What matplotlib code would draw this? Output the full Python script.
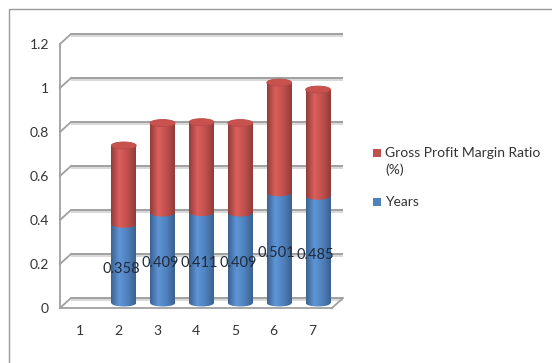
import numpy as np
import matplotlib
matplotlib.use("Agg")
import matplotlib.pyplot as plt
from matplotlib.patches import Rectangle, Ellipse
from matplotlib.colors import LinearSegmentedColormap, to_rgb
import matplotlib.transforms as mtransforms

plt.rcParams['font.family'] = ['Lato', 'DejaVu Sans']

categories = ['1', '2', '3', '4', '5', '6', '7']
years = [0, 0.358, 0.409, 0.411, 0.409, 0.501, 0.485]
gpm_ratio = [0, 0.358, 0.409, 0.411, 0.409, 0.501, 0.485]
y_ticks = [0, 0.2, 0.4, 0.6, 0.8, 1, 1.2]
y_tick_labels = ['0', '0.2', '0.4', '0.6', '0.8', '1', '1.2']

BLUE = '#4f81bd'
RED = '#c0504d'
GRID = '#a0a0a0'
TXT = '#333333'

W, H = 552, 363
fig = plt.figure(figsize=(W / 100, H / 100), dpi=100)

# outer chart border (runs off the right/bottom edge)
fig.patches.append(Rectangle((9 / W, -0.2), 1.2, 1.2 - 9 / H,
                             transform=fig.transFigure, fill=False,
                             edgecolor='#9a9a9a', lw=1.0))

# front plane of the pseudo-3d box
left, right, bottom, top = 60, 332, 308, 44
ax = fig.add_axes([left / W, (H - bottom) / H, (right - left) / W, (bottom - top) / H])
ax.set_xlim(0.5, 7.5)
ax.set_ylim(0, 1.2)
ax.axis('off')

DX, DY = 11, 10  # depth offset of the back wall, pixels
back = mtransforms.offset_copy(ax.transData, fig, x=DX, y=DY, units='dots')
mid = mtransforms.offset_copy(ax.transData, fig, x=DX / 2, y=DY / 2, units='dots')

x0, x1 = ax.get_xlim()
for v, lab in zip(y_ticks, y_tick_labels):
    # back wall gridline, with a soft shadow under it
    ax.plot([x0, x1], [v, v], transform=mtransforms.offset_copy(back, fig, x=0, y=-1.8, units='dots'),
            color='#d8d8d8', lw=1.4, solid_capstyle='butt', clip_on=False)
    ax.plot([x0, x1], [v, v], transform=back, color=GRID, lw=1.4,
            solid_capstyle='butt', clip_on=False)
    # side wall diagonal
    p0 = ax.transData.transform((x0, v))
    ax.plot([p0[0], p0[0] + DX], [p0[1], p0[1] + DY], transform=None,
            color=GRID, lw=1.3, clip_on=False)
    ax.text(x0, v, lab, transform=mtransforms.offset_copy(ax.transData, fig, x=-11, y=-1, units='dots'),
            ha='right', va='center', fontsize=10, color=TXT)

# front-left axis edge and floor front edge
ax.plot([x0, x0], [0, 1.2], color=GRID, lw=1.3, clip_on=False)
ax.plot([x0, x1], [0, 0], color=GRID, lw=1.3, clip_on=False)
p1 = ax.transData.transform((x1, 0))
ax.plot([p1[0], p1[0] + DX], [p1[1], p1[1] + DY], transform=None,
        color=GRID, lw=1.3, clip_on=False)

for i, c in enumerate(categories):
    ax.text(i + 1, 0, c, transform=mtransforms.offset_copy(ax.transData, fig, x=0, y=-23, units='dots'),
            ha='center', va='center', fontsize=10, color=TXT)


def cyl_cmap(color):
    r, g, b = to_rgb(color)
    dark = (r * 0.75, g * 0.75, b * 0.75)
    light = tuple(min(1, ch * 1.1 + 0.03) for ch in (r, g, b))
    return LinearSegmentedColormap.from_list('cyl', [dark, light, (r, g, b), dark], N=256)


def cylinder(xc, y0, y1, w, color, eh):
    grad = np.linspace(0, 1, 128).reshape(1, -1)
    body = Rectangle((xc - w / 2, y0), w, y1 - y0, transform=mid, facecolor='none', edgecolor='none')
    ax.add_patch(body)
    im = ax.imshow(grad, extent=(xc - w / 2, xc + w / 2, y0, y1), cmap=cyl_cmap(color),
                   aspect='auto', transform=mid, zorder=3)
    im.set_clip_path(body)
    bottom_cap = Ellipse((xc, y0), w, eh, transform=mid, facecolor=color, edgecolor='none', zorder=3)
    ax.add_patch(bottom_cap)
    im2 = ax.imshow(grad, extent=(xc - w / 2, xc + w / 2, y0 - eh, y0 + eh), cmap=cyl_cmap(color),
                    aspect='auto', transform=mid, zorder=3)
    im2.set_clip_path(bottom_cap)
    bottom_cap.set_visible(False)


bar_w = 0.64
eh = 7 / 220.0
for i, (b, r) in enumerate(zip(years, gpm_ratio)):
    if b + r == 0:
        continue
    xc = i + 1
    cylinder(xc, 0, b, bar_w, BLUE, eh)
    cylinder(xc, b, b + r, bar_w, RED, eh)
    ax.add_patch(Ellipse((xc, b + r), bar_w, eh, transform=mid, facecolor='#c9524f',
                         edgecolor='#b84a47', lw=0.6, zorder=4))
    ax.text(xc, b / 2, f'{b:.3f}',
            transform=mtransforms.offset_copy(ax.transData, fig, x=3, y=0, units='dots'),
            ha='center', va='center', fontsize=10.5, color='#1f2a3a', zorder=6)

# legend
fig.patches.append(Rectangle((373 / W, 1 - 157 / H), 8 / W, 8 / H, transform=fig.transFigure,
                             facecolor=RED, edgecolor='none'))
fig.text(385 / W, 1 - 153 / H, 'Gross Profit Margin Ratio', fontsize=10, color=TXT, va='center')
fig.text(385 / W, 1 - 170 / H, '(%)', fontsize=10, color=TXT, va='center')
fig.patches.append(Rectangle((373 / W, 1 - 206 / H), 8 / W, 8 / H, transform=fig.transFigure,
                             facecolor=BLUE, edgecolor='none'))
fig.text(385 / W, 1 - 202 / H, 'Years', fontsize=10, color=TXT, va='center')

fig.savefig('out.png', dpi=100)
